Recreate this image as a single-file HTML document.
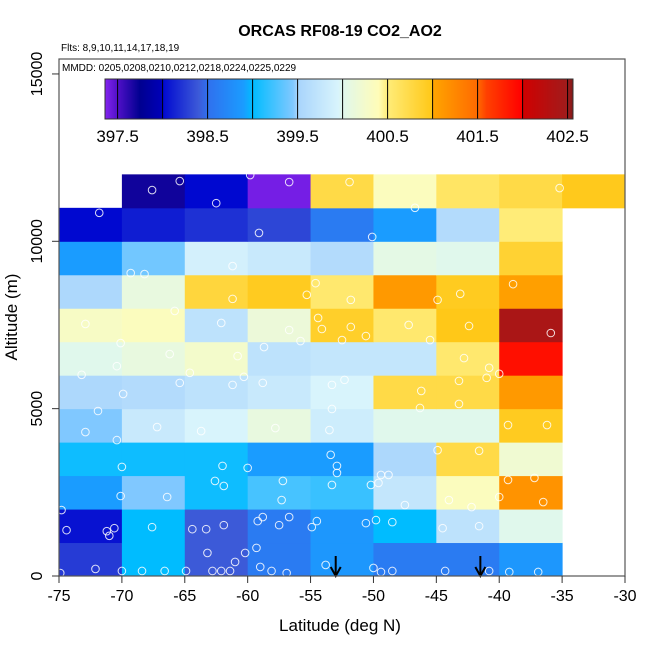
<!DOCTYPE html>
<html><head><meta charset="utf-8"><style>
html,body{margin:0;padding:0;background:#fff;}
svg{display:block;font-family:"Liberation Sans",Arial,sans-serif;}
</style></head><body>
<svg id="chart" width="650" height="650" viewBox="0 0 650 650" xmlns="http://www.w3.org/2000/svg">
<text x="340" y="36" text-anchor="middle" font-size="16" font-weight="bold">ORCAS RF08-19 CO2_AO2</text>
<text x="61" y="51" font-size="10">Flts: 8,9,10,11,14,17,18,19</text>
<g id="cells"></g>
<g id="pts"></g>
<g id="arrows"></g>
<rect x="59" y="59" width="566" height="96" fill="#fff" stroke="none"/>
<text x="62" y="71" font-size="10">MMDD: 0205,0208,0210,0212,0218,0224,0225,0229</text>
<g id="cbar"></g>
<rect x="59" y="59" width="566" height="517" fill="none" stroke="#555" stroke-width="1.2"/>
<g id="axes"></g>
<text x="340" y="631" text-anchor="middle" font-size="17">Latitude (deg N)</text>
<text transform="translate(17,317) rotate(-90)" text-anchor="middle" font-size="17">Altitude (m)</text>
</svg>
<script>
// ---- data ----
const latBins = [-75,-70,-65,-60,-55,-50,-45,-40,-35];
const altBins = [0,1000,2000,3000,4000,5000,6000,7000,8000,9000,10000,11000];
// rows from bottom (0-1000m) to top (11000-12000m); null = no data
const row0  = [398.25,399.0,398.4,398.6,398.85,398.6,398.6,398.85,null];
const row1  = [398.05,399.0,398.4,398.6,398.85,399.0,399.7,400.0,null];
const row2  = [398.9,399.45,399.05,399.25,399.2,399.75,400.35,401.15,null];
const row3  = [399.05,399.05,399.05,398.9,398.9,399.55,400.75,400.2,null];
const row4  = [399.45,399.8,399.95,400.1,399.85,400.0,400.0,400.95,null];
const row5  = [399.55,399.6,399.7,399.8,399.95,400.75,400.75,401.1,null];
const row6  = [400.0,400.1,400.25,399.7,399.75,399.75,400.55,401.9,null];
const row7  = [400.3,400.35,399.7,400.15,400.9,400.55,400.99,402.4,null];
const row8  = [399.55,400.1,400.8,400.95,400.55,401.1,400.95,401.05,null];
const row9  = [398.9,399.4,399.9,399.8,399.6,400.05,400.0,400.85,null];
const row10 = [398.0,398.1,398.2,398.3,398.6,398.9,399.6,400.5,null];
const row11 = [null,397.7,398.0,397.4,400.75,400.35,400.6,400.75,400.97];
const rows = [row0,row1,row2,row3,row4,row5,row6,row7,row8,row9,row10,row11];
const ptLat = [-67.6,-65.4,-62.5,-59.8,-56.7,-51.9,-46.7,-35.2,-71.8,-59.1,-50.1,-69.3,-68.2,-61.2,-61.2,-54.6,-55.3,-51.8,-44.9,-43.1,-38.9,-65.8,-62.1,-56.7,-54.4,-54.1,-51.8,-47.2,-45.5,-42.4,-35.9,-72.9,-70.1,-66.2,-60.8,-58.7,-55.8,-52.5,-50.6,-42.8,-40.8,-73.2,-70.4,-64.6,-60.3,-58.8,-53.3,-52.3,-46.2,-43.2,-40.0,-41.0,-69.9,-65.4,-61.2,-53.3,-46.3,-43.2,-39.3,-36.2,-71.9,-72.9,-70.4,-67.2,-63.7,-57.8,-53.5,-44.9,-41.6,-70.0,-62.0,-62.6,-60.0,-57.2,-53.4,-52.9,-52.9,-49.4,-48.8,-39.3,-37.2,-70.1,-66.4,-61.9,-57.3,-53.3,-50.2,-49.6,-47.5,-44.0,-42.2,-40.0,-36.5,-74.8,-74.4,-71.2,-71.0,-70.6,-67.6,-64.4,-63.3,-61.9,-58.8,-59.2,-57.5,-56.7,-54.5,-54.9,-50.6,-49.8,-48.5,-44.5,-41.6,-72.1,-70.0,-68.4,-66.6,-64.9,-62.8,-62.1,-61.4,-61.0,-63.2,-59.0,-58.1,-56.9,-53.8,-50.0,-49.4,-48.5,-44.3,-40.8,-39.2,-36.9,-74.9,-59.3,-60.2];
const ptAlt = [11530,11800,11140,11980,11770,11770,11000,11590,10850,10250,10130,9050,9020,9260,8280,8750,8400,8250,8250,8430,8720,7920,7560,7350,7710,7380,7440,7500,7050,7470,7260,7530,6960,6630,6570,6840,7020,7050,7170,6510,6220,6010,6270,6070,5950,5770,5710,5860,5530,5830,6040,5920,5440,5770,5710,4990,5020,5140,4510,4510,4930,4300,4060,4450,4330,4420,4360,3760,3740,3260,3290,2840,3230,2840,3620,3290,3080,3020,3020,2870,2930,2390,2360,2690,2270,2720,2720,2780,2120,2270,2060,2360,2210,1970,1370,1340,1200,1430,1460,1400,1400,1520,1760,1640,1520,1760,1640,1460,1580,1670,1610,1430,1490,210,150,150,150,150,150,150,150,420,690,270,150,90,330,240,120,150,150,150,120,120,90,840,690];
const arrowLat = [-53.0,-41.5];
const xTicks = [-75,-70,-65,-60,-55,-50,-45,-40,-35,-30];
const yTicks = [0,5000,10000,15000];
const cbTicks = [397.5,398.5,399.5,400.5,401.5,402.5];
const cbLines = [397.5,398,398.5,399,399.5,400,400.5,401,401.5,402,402.5];

// ---- scales ----
const X0=59, X1=625, Y0=576;
const xs = v => X0 + (v+75)/45*(X1-X0);
const ys = a => Y0 - a*0.03347;
const cbMin=397.36, cbMax=402.56, cbL=105, cbR=573;
const cbx = v => cbL + (v-cbMin)/(cbMax-cbMin)*(cbR-cbL);
const stops = [[397.36,"#8424f0"],[397.5,"#5010c8"],[397.75,"#000090"],[397.99,"#0000b8"],[398.0,"#0008d0"],[398.4,"#3c5ad8"],[398.5,"#3070ee"],[398.9,"#1a9cff"],[399.0,"#00bcff"],[399.45,"#80c8ff"],[399.5,"#a8d4fc"],[399.95,"#d8f4fc"],[400.0,"#e0f8ec"],[400.4,"#fffcb8"],[400.5,"#ffec78"],[400.99,"#ffc818"],[401.0,"#ffa500"],[401.5,"#ff6a00"],[401.6,"#ff4000"],[401.99,"#ff0000"],[402.0,"#d00000"],[402.5,"#a01c1c"],[402.56,"#801818"]];
function hex(h){return [1,3,5].map(i=>parseInt(h.substr(i,2),16));}
function color(v){
  if(v<=stops[0][0]) return stops[0][1];
  for(let i=1;i<stops.length;i++){
    if(v<=stops[i][0]){
      const [a,ca]=stops[i-1],[b,cb]=stops[i];
      const t=(v-a)/(b-a), p=hex(ca), q=hex(cb);
      return "rgb("+p.map((c,k)=>Math.round(c+(q[k]-c)*t)).join(",")+")";
    }
  }
  return stops[stops.length-1][1];
}
const NS="http://www.w3.org/2000/svg";
function mk(tag,attrs,parent){const e=document.createElementNS(NS,tag);for(const k in attrs)e.setAttribute(k,attrs[k]);parent.appendChild(e);return e;}

// cells
const cells=document.getElementById('cells');
rows.forEach((r,ri)=>{
  r.forEach((v,ci)=>{
    if(v===null) return;
    const lat0=latBins[ci], a0=altBins[ri];
    const x=xs(lat0), w=xs(lat0+5)-x, y=ys(a0+1000), h=ys(a0)-y;
    const el=mk('rect',{x:x,y:y,width:w+0.5,height:h+0.5,fill:color(v)},cells);
    
    
  });
});
// points
const pts=document.getElementById('pts');
ptLat.forEach((la,i)=>{
  const el=mk('circle',{cx:xs(la),cy:ys(ptAlt[i]),r:3.8,fill:"none",stroke:"#fff","stroke-opacity":0.85,"stroke-width":1},pts);
  
  
});
// arrows
const arr=document.getElementById('arrows');
arrowLat.forEach(la=>{
  const x=xs(la);
  const g=mk('g',{},arr);
  
  
  mk('line',{x1:x,y1:556,x2:x,y2:575,stroke:"#000","stroke-width":2},g);
  mk('path',{d:`M${x-5},${567} L${x},${576} L${x+5},${567}`,fill:"none",stroke:"#000","stroke-width":2},g);
});
// colorbar
const cb=document.getElementById('cbar');
for(let px=cbL;px<cbR;px+=1){
  const v=cbMin+(px+0.5-cbL)/(cbR-cbL)*(cbMax-cbMin);
  mk('rect',{x:px,y:79,width:1.2,height:40,fill:color(v)},cb);
}
cbLines.forEach(v=>{mk('line',{x1:cbx(v),y1:79,x2:cbx(v),y2:119,stroke:"#000","stroke-width":1},cb);});
mk('rect',{x:cbL,y:79,width:cbR-cbL,height:40,fill:"none",stroke:"#333","stroke-width":1},cb);
cbTicks.forEach(v=>{
  const t=mk('text',{x:cbx(v),y:142,"text-anchor":"middle","font-size":17},cb);
  t.textContent=v.toFixed(1);
  
  
});
// axes
const ax=document.getElementById('axes');
xTicks.forEach(v=>{
  const x=xs(v);
  mk('line',{x1:x,y1:576,x2:x,y2:583,stroke:"#333","stroke-width":1},ax);
  const t=mk('text',{x:x,y:601,"text-anchor":"middle","font-size":16},ax);
  t.textContent=v;
  
  
});
yTicks.forEach(v=>{
  const y=ys(v);
  mk('line',{x1:52,y1:y,x2:59,y2:y,stroke:"#333","stroke-width":1},ax);
  const t=mk('text',{transform:`translate(42,${y}) rotate(-90)`,"text-anchor":"middle","font-size":16},ax);
  t.textContent=v;
  
  
});
</script>
</body></html>
